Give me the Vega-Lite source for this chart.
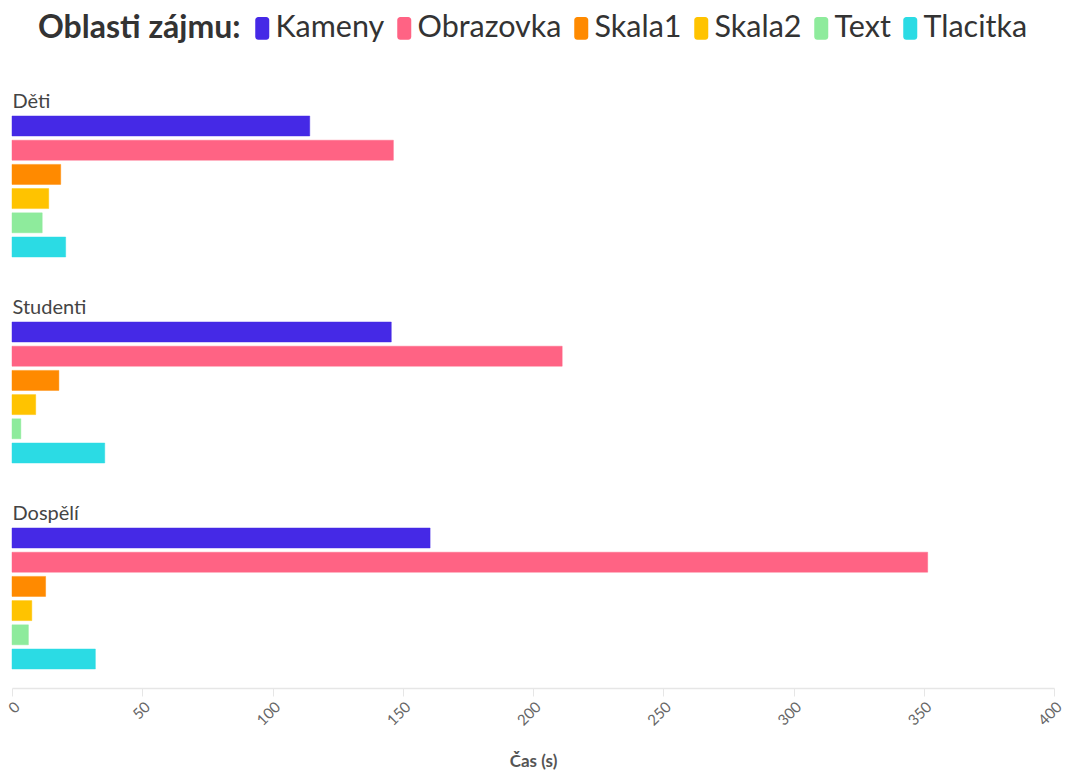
{
  "$schema": "https://vega.github.io/schema/vega-lite/v6.json",
  "width": 1042,
  "height": 591,
  "autosize": {"type": "none"},
  "padding": {"left": 12, "top": 97, "right": 12, "bottom": 83},
  "background": "white",
  "config": {"view": {"stroke": null}, "font": "Lato"},
  "data": {
    "values": [
      {"group": "Děti", "area": "Kameny", "value": 114.3},
      {"group": "Děti", "area": "Obrazovka", "value": 146.4},
      {"group": "Děti", "area": "Skala1", "value": 18.7},
      {"group": "Děti", "area": "Skala2", "value": 14.1},
      {"group": "Děti", "area": "Text", "value": 11.6},
      {"group": "Děti", "area": "Tlacitka", "value": 20.6},
      {"group": "Studenti", "area": "Kameny", "value": 145.6},
      {"group": "Studenti", "area": "Obrazovka", "value": 211.2},
      {"group": "Studenti", "area": "Skala1", "value": 18.0},
      {"group": "Studenti", "area": "Skala2", "value": 9.1},
      {"group": "Studenti", "area": "Text", "value": 3.4},
      {"group": "Studenti", "area": "Tlacitka", "value": 35.6},
      {"group": "Dospělí", "area": "Kameny", "value": 160.5},
      {"group": "Dospělí", "area": "Obrazovka", "value": 351.5},
      {"group": "Dospělí", "area": "Skala1", "value": 12.9},
      {"group": "Dospělí", "area": "Skala2", "value": 7.6},
      {"group": "Dospělí", "area": "Text", "value": 6.3},
      {"group": "Dospělí", "area": "Tlacitka", "value": 32.0}
    ]
  },
  "mark": {"type": "bar", "strokeWidth": 1, "strokeOpacity": 0.45},
  "encoding": {
    "y": {
      "field": "group",
      "type": "nominal",
      "sort": ["Děti", "Studenti", "Dospělí"],
      "scale": {"paddingInner": 0.3155, "paddingOuter": 0.0922},
      "axis": {
        "title": null,
        "domain": false,
        "ticks": false,
        "labelAlign": "left",
        "labelPadding": 0,
        "labelBaseline": "alphabetic",
        "labelOffset": -78.5,
        "labelFontSize": 20,
        "labelColor": "#444444",
        "labelFont": "Lato",
        "zindex": 1
      }
    },
    "yOffset": {
      "field": "area",
      "type": "nominal",
      "sort": ["Kameny", "Obrazovka", "Skala1", "Skala2", "Text", "Tlacitka"],
      "scale": {"paddingInner": 0.174, "paddingOuter": 0}
    },
    "x": {
      "field": "value",
      "type": "quantitative",
      "scale": {"domain": [0, 400], "nice": false},
      "axis": {
        "values": [0, 50, 100, 150, 200, 250, 300, 350, 400],
        "grid": false,
        "domainColor": "#e6e6e6",
        "domainWidth": 1.5,
        "tickColor": "#e6e6e6",
        "tickSize": 8,
        "labelAngle": -45,
        "labelFontSize": 15,
        "labelColor": "#666666",
        "labelPadding": 3,
        "title": "Čas (s)",
        "titleFontSize": 17,
        "titleFontWeight": "bold",
        "titleColor": "#555555",
        "titlePadding": 25
      }
    },
    "color": {
      "field": "area",
      "type": "nominal",
      "sort": ["Kameny", "Obrazovka", "Skala1", "Skala2", "Text", "Tlacitka"],
      "scale": {
        "domain": ["Kameny", "Obrazovka", "Skala1", "Skala2", "Text", "Tlacitka"],
        "range": ["#4529e6", "#ff6384", "#ff8a00", "#ffc300", "#8eeb9c", "#2bdbe4"]
      },
      "legend": {
        "orient": "none",
        "legendX": 26,
        "legendY": -84,
        "direction": "horizontal",
        "title": "Oblasti zájmu:",
        "titleOrient": "left",
        "titleFontSize": 32,
        "titleFontWeight": "bold",
        "titleColor": "#333333",
        "titlePadding": 6,
        "titleLimit": 500,
        "labelFontSize": 30.5,
        "labelColor": "#333333",
        "labelOffset": -2,
        "columnPadding": 4,
        "padding": 0,
        "symbolType": "M-0.57,-1.64 H0.57 A0.43,0.43 0 0 1 1,-1.21 V1.21 A0.43,0.43 0 0 1 0.57,1.64 H-0.57 A0.43,0.43 0 0 1 -1,1.21 V-1.21 A0.43,0.43 0 0 1 -0.57,-1.64 Z",
        "symbolSize": 196,
        "symbolStrokeWidth": 0,
        "symbolOpacity": 1,
        "labelLimit": 300
      }
    },
    "stroke": {
      "field": "area",
      "type": "nominal",
      "scale": {
        "domain": ["Kameny", "Obrazovka", "Skala1", "Skala2", "Text", "Tlacitka"],
        "range": ["#4529e6", "#ff6384", "#ff8a00", "#ffc300", "#8eeb9c", "#2bdbe4"]
      },
      "legend": null
    }
  }
}
